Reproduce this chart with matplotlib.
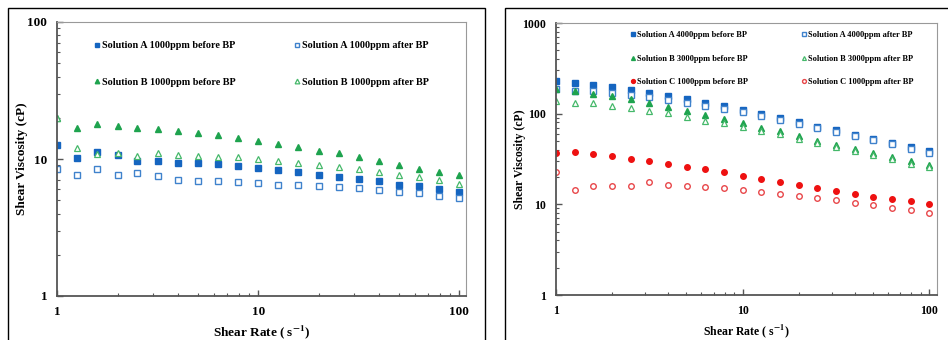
import numpy as np
import matplotlib
matplotlib.use('Agg')
import matplotlib.pyplot as plt
from matplotlib.patches import Rectangle
from matplotlib.ticker import FixedLocator, LogLocator, NullFormatter

plt.rcParams['font.family'] = ['Liberation Serif', 'DejaVu Serif']
plt.rcParams['font.weight'] = 'bold'
plt.rcParams['mathtext.fontset'] = 'stix'

# shear rates (1/s)
shear_rate = [1, 1.26, 1.58, 2, 2.51, 3.16, 3.98, 5.01, 6.31, 7.94, 10,
              12.6, 15.8, 20, 25.1, 31.6, 39.8, 50.1, 63.1, 79.4, 100]

# left panel: 1000 ppm solutions
a1000_before = [12.7, 10.1, 11.2, 10.7, 9.7, 9.6, 9.4, 9.4, 9.2, 8.9, 8.6,
                8.3, 8.0, 7.7, 7.4, 7.2, 6.9, 6.5, 6.3, 6.0, 5.7]
a1000_after = [8.4, 7.7, 8.5, 7.6, 7.9, 7.5, 7.0, 6.9, 6.9, 6.8, 6.7,
               6.5, 6.5, 6.4, 6.2, 6.15, 5.95, 5.75, 5.6, 5.35, 5.2]
b1000_before = [19.8, 16.8, 18.1, 17.5, 16.8, 16.6, 16.0, 15.5, 15.0, 14.3, 13.6,
                12.9, 12.3, 11.5, 11.0, 10.3, 9.7, 9.1, 8.5, 8.1, 7.6]
b1000_after = [19.8, 12.0, 10.9, 11.1, 10.5, 11.0, 10.7, 10.5, 10.4, 10.3, 10.0,
               9.7, 9.4, 9.1, 8.8, 8.4, 8.1, 7.7, 7.4, 7.0, 6.6]

# right panel
a4000_before = [231, 219, 208, 195, 182, 167, 156, 145, 132, 121, 110,
                98, 89, 80, 72, 65.5, 58, 52.5, 47.4, 42.5, 38.7]
a4000_after = [187, 179, 176, 170, 160, 151, 141, 132, 122, 113, 105,
               94, 85, 77, 70, 63, 57, 51, 46, 41, 37]
b3000_before = [185, 178, 166, 155, 144, 130, 119, 108, 97, 88, 78,
                70, 64, 56, 50, 45, 41, 36.5, 33.5, 30, 27]
b3000_after = [139, 132, 131, 122, 116, 108, 101, 92, 84, 79, 72,
               65, 60, 52.5, 48, 42.5, 39, 35, 32, 28, 25.6]
c1000_before = [37, 38, 36, 34, 32, 30, 28, 26, 24.5, 22.5, 20.5,
                19.0, 17.5, 16.2, 15.0, 13.9, 12.9, 12.1, 11.4, 10.8, 10.1]
c1000_after = [23, 14.3, 16.0, 15.8, 15.8, 17.5, 16.4, 15.8, 15.5, 15.0, 14.4,
               13.8, 13.0, 12.4, 11.7, 11.1, 10.4, 9.75, 9.2, 8.6, 8.0]

blue = '#1565c0'
blue_open = '#3f82cc'
green = '#1ea34e'
green_open = '#45b86a'
red = '#ee1111'
red_open = '#e8474a'

fig = plt.figure(figsize=(9.48, 3.4), dpi=100)

# panel frames
for x0, x1 in [(7.5, 485.5), (504.5, 960)]:
    fig.add_artist(Rectangle((x0 / 948, -0.05), (x1 - x0) / 948, (340 - 7.5) / 340 + 0.05,
                             transform=fig.transFigure, fill=False, lw=1.0, ec='black'))


def style(ax, ymax, xmax, tfs):
    ax.set_xscale('log')
    ax.set_yscale('log')
    ax.set_xlim(1, xmax)
    ax.set_ylim(1, ymax)
    for s in ['top', 'right']:
        ax.spines[s].set_color('#999999')
        ax.spines[s].set_linewidth(0.8)
    for s in ['left', 'bottom']:
        ax.spines[s].set_color('#555555')
        ax.spines[s].set_linewidth(1.3)
    xt = [1, 10, 100]
    yt = [t for t in [1, 10, 100, 1000] if t <= ymax]
    ax.xaxis.set_major_locator(FixedLocator(xt))
    ax.set_xticklabels([str(t) for t in xt])
    ax.yaxis.set_major_locator(FixedLocator(yt))
    ax.set_yticklabels([str(t) for t in yt])
    for axis in [ax.xaxis, ax.yaxis]:
        axis.set_minor_locator(LogLocator(base=10, subs=np.arange(2, 10), numticks=20))
        axis.set_minor_formatter(NullFormatter())
    ax.tick_params(which='both', direction='in', color='#555555', top=False, right=False,
                   labelsize=tfs)
    ax.tick_params(which='major', length=4, width=1.0)
    ax.tick_params(which='minor', length=2.5, width=0.8)
    ax.tick_params(axis='x', pad=7)
    ax.tick_params(axis='y', pad=7)


# left panel
ax1 = fig.add_axes([57 / 948, 44 / 340, 409 / 948, 274 / 340])
h1 = ax1.plot(shear_rate, a1000_before, 's', color=blue, ms=4.3, ls='none',
              label='Solution A 1000ppm before BP')[0]
h2 = ax1.plot(shear_rate, a1000_after, 's', mfc='white', mec=blue_open, mew=1.0, ms=4.3, ls='none',
              label='Solution A 1000ppm after BP')[0]
h3 = ax1.plot(shear_rate, b1000_before, '^', color=green, ms=4.3, ls='none',
              label='Solution B 1000ppm before BP')[0]
h4 = ax1.plot(shear_rate, b1000_after, '^', mfc='white', mec=green_open, mew=0.9, ms=4.5, ls='none',
              label='Solution B 1000ppm after BP')[0]
style(ax1, 100, 108, 9.5)
ax1.set_xlabel('Shear Rate ( s$^{\\mathbf{-1}}$)', fontsize=9.5, fontweight='bold', labelpad=4)
ax1.set_ylabel('Shear Viscosity (cP)', fontsize=9.5, fontweight='bold')
ax1.yaxis.set_label_coords(-0.071, 0.5)
ax1.legend(handles=[h1, h3, h2, h4], ncol=2, frameon=False, loc='upper left',
           bbox_to_anchor=(0.08, 0.948), borderpad=0, labelspacing=2.7,
           handlelength=0.5, handletextpad=0.25, columnspacing=5.8, markerscale=0.75,
           prop={'weight': 'bold', 'size': 7.3})

# right panel
ax2 = fig.add_axes([556 / 948, 45 / 340, 381 / 948, 272 / 340])
g1 = ax2.plot(shear_rate, a4000_before, 's', color=blue, ms=4, ls='none',
              label='Solution A 4000ppm before BP')[0]
g2 = ax2.plot(shear_rate, a4000_after, 's', mfc='white', mec=blue_open, mew=1.0, ms=4, ls='none',
              label='Solution A 4000ppm after BP')[0]
g3 = ax2.plot(shear_rate, b3000_before, '^', color=green, ms=4, ls='none',
              label='Solution B 3000ppm before BP')[0]
g4 = ax2.plot(shear_rate, b3000_after, '^', mfc='white', mec=green_open, mew=0.9, ms=4, ls='none',
              label='Solution B 3000ppm after BP')[0]
g5 = ax2.plot(shear_rate, c1000_before, 'o', color=red, ms=4, ls='none',
              label='Solution C 1000ppm before BP')[0]
g6 = ax2.plot(shear_rate, c1000_after, 'o', mfc='white', mec=red_open, mew=1.0, ms=4, ls='none',
              label='Solution C 1000ppm after BP')[0]
style(ax2, 1000, 110, 8.5)
ax2.set_xlabel('Shear Rate ( s$^{\\mathbf{-1}}$)', fontsize=8.5, fontweight='bold', labelpad=4)
ax2.set_ylabel('Shear Viscosity (cP)', fontsize=8.5, fontweight='bold')
ax2.yaxis.set_label_coords(-0.079, 0.5)
ax2.legend(handles=[g1, g3, g5, g2, g4, g6], ncol=2, frameon=False, loc='upper left',
           bbox_to_anchor=(0.185, 0.985), borderpad=0, labelspacing=1.85,
           handlelength=0.5, handletextpad=0.25, columnspacing=6.5, markerscale=0.7,
           prop={'weight': 'bold', 'size': 6})

fig.savefig('out.png', dpi=100)
